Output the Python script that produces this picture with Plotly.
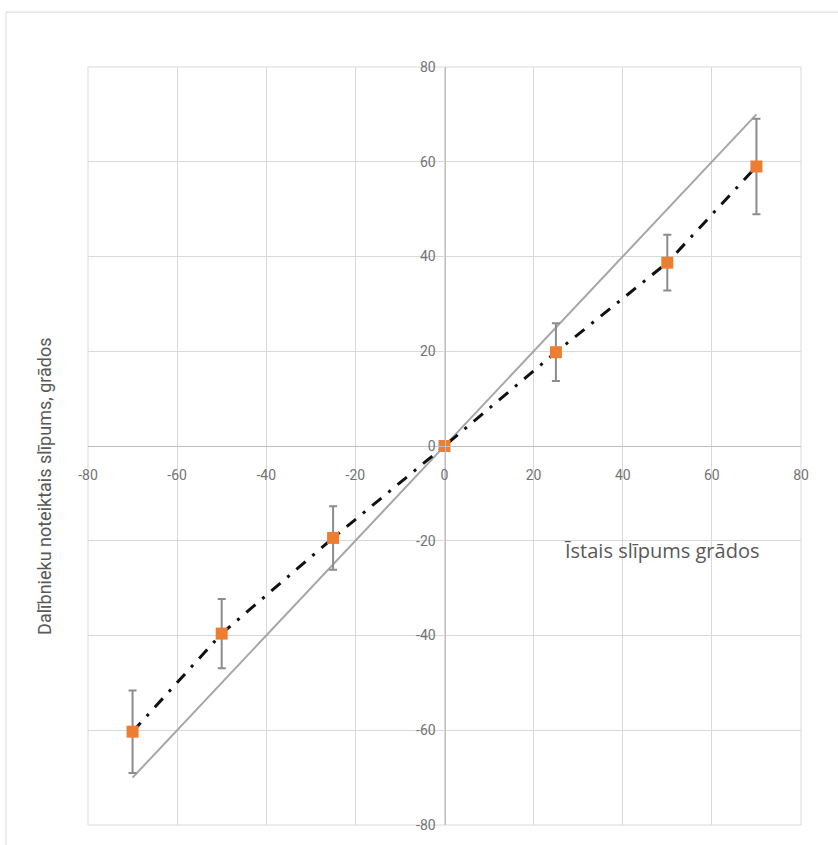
import plotly.graph_objects as go

# Data
true_slope = [-70, -50, -25, 0, 25, 50, 70]
perceived = [-60.3, -39.6, -19.4, 0, 19.8, 38.7, 59.0]
err = [8.7, 7.3, 6.7, 0, 6.1, 5.9, 10.1]
ideal_x = [-70, 70]
ideal_y = [-70, 70]
tick_vals = [-80, -60, -40, -20, 0, 20, 40, 60, 80]
tick_text = ["-80", "-60", "-40", "-20", "0", "20", "40", "60", "80"]
x_title = "Īstais slīpums grādos"
y_title = "Dalībnieku noteiktais slīpums, grādos"

W, H = 838, 845
ml, mr, mt, mb = 88, 37, 67, 18
pw, ph = W - ml - mr, H - mt - mb

def px(xp):
    return (xp - ml) / pw

def py(yp):
    return (H - mb - yp) / ph

fig = go.Figure()

fig.add_trace(go.Scatter(
    x=ideal_x, y=ideal_y, mode="lines",
    line=dict(color="#a6a6a6", width=2),
    showlegend=False, hoverinfo="skip"))

fig.add_trace(go.Scatter(
    x=true_slope, y=perceived, mode="lines",
    line=dict(color="#111111", width=3, dash="12px,9px,3px,9px"),
    showlegend=False, hoverinfo="skip"))

fig.add_trace(go.Scatter(
    x=true_slope, y=perceived, mode="markers",
    marker=dict(symbol="square", size=12, color="#ED7D31"),
    error_y=dict(type="data", array=err, visible=True,
                 color="#8c8c8c", thickness=2, width=4),
    showlegend=False))

font_family = "Roboto, sans-serif"
tickfont = dict(family=font_family, size=14, color="#737373")

fig.update_layout(
    width=W, height=H,
    margin=dict(l=ml, r=mr, t=mt, b=mb),
    paper_bgcolor="white", plot_bgcolor="white",
    xaxis=dict(range=[-80, 80], tickvals=tick_vals, ticktext=tick_text,
               showgrid=True, gridcolor="#d9d9d9", gridwidth=1, zeroline=False,
               showline=True, linecolor="#bfbfbf", linewidth=1,
               anchor="free", position=0.5,
               ticks="outside", ticklen=16, tickcolor="rgba(0,0,0,0)",
               tickfont=tickfont),
    yaxis=dict(range=[-80, 80], tickvals=tick_vals, ticktext=tick_text,
               showgrid=True, gridcolor="#d9d9d9", gridwidth=1, zeroline=False,
               showline=True, linecolor="#bfbfbf", linewidth=1,
               anchor="free", position=0.5,
               ticks="outside", ticklen=6, tickcolor="rgba(0,0,0,0)",
               tickfont=tickfont),
    shapes=[
        dict(type="rect", xref="paper", yref="paper",
             x0=px(6), x1=px(900), y0=py(900), y1=py(12),
             line=dict(color="#d9d9d9", width=1),
             fillcolor="rgba(0,0,0,0)", layer="below"),
        dict(type="rect", xref="paper", yref="paper",
             x0=0, x1=1, y0=0, y1=1,
             line=dict(color="#d9d9d9", width=1),
             fillcolor="rgba(0,0,0,0)", layer="below"),
    ],
    annotations=[
        dict(text=x_title, xref="paper", yref="paper",
             x=px(661), y=py(552), xanchor="center", yanchor="middle",
             showarrow=False,
             font=dict(family="Open Sans, sans-serif", size=20, color="#595959")),
        dict(text=y_title, xref="paper", yref="paper",
             x=px(45), y=py(488), xanchor="center", yanchor="middle",
             showarrow=False, textangle=-90,
             font=dict(family=font_family, size=18, color="#595959")),
    ],
)

fig.write_html("out.html")
